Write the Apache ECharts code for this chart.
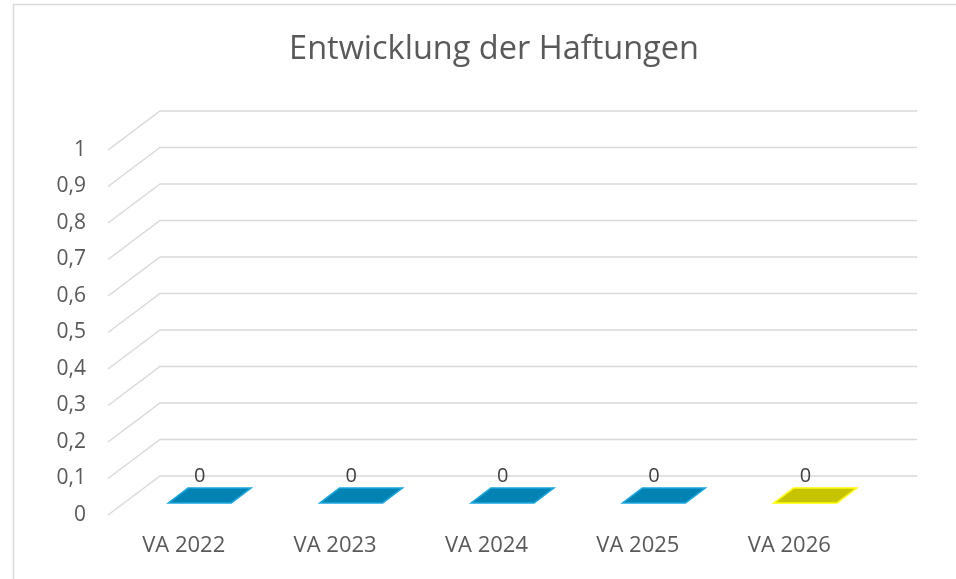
<!DOCTYPE html>
<html>
<head>
<meta charset="utf-8">
<script src="https://cdn.jsdelivr.net/npm/echarts@6/dist/echarts.min.js"></script>
<style>
  html, body { margin: 0; padding: 0; background: #fff; }
  #chart { width: 956px; height: 579px; }
</style>
</head>
<body>
<div id="chart"></div>
<script>
// Daten aus der Vorlage
const categories = ['VA 2022', 'VA 2023', 'VA 2024', 'VA 2025', 'VA 2026']
const haftungen = [0, 0, 0, 0, 0]
const barColors = ['#0383B4', '#0383B4', '#0383B4', '#0383B4', '#C6C300']
const barBorders = ['#1AA7DE', '#1AA7DE', '#1AA7DE', '#1AA7DE', '#FFFF00']
const yTicks = [0, 0.1, 0.2, 0.3, 0.4, 0.5, 0.6, 0.7, 0.8, 0.9, 1]

// Tiefe der 3D-Darstellung (Rückwand gegenüber Vorderkante)
const DX = 52
const DY = -39
const FONT = '"Open Sans", "Noto Sans", sans-serif'

const chart = echarts.init(document.getElementById('chart'))

// schräge Gitterlinien + Rückwand
function renderGrid(params, api) {
  const cs = params.coordSys
  const y = api.coord([0, api.value(1)])[1]
  return {
    type: 'polyline',
    shape: {
      points: [
        [cs.x, y],
        [cs.x + DX, y + DY],
        [cs.x + cs.width + DX, y + DY]
      ]
    },
    style: { stroke: '#D9D9D9', lineWidth: 1.5, fill: null },
    silent: true
  }
}

// flache Säulen (Wert 0 -> nur Deckfläche)
function renderBar(params, api) {
  const i = api.value(0)
  const v = api.value(1)
  const base = api.coord([i, 0])
  const top = api.coord([i, v])
  const bw = api.size([1, 0])[0] * 0.416
  const d0 = 0.31
  const d1 = 0.69
  const fill = barColors[params.dataIndex]
  const stroke = barBorders[params.dataIndex]
  const children = []
  if (v > 0) {
    children.push({
      type: 'rect',
      shape: { x: base[0] - bw / 2 + d0 * DX, y: top[1] + d0 * DY, width: bw, height: base[1] - top[1] },
      style: { fill: fill, stroke: stroke, lineWidth: 1.5 }
    })
  }
  children.push({
    type: 'polygon',
    shape: {
      points: [
        [top[0] - bw / 2 + d0 * DX, top[1] + d0 * DY],
        [top[0] + bw / 2 + d0 * DX, top[1] + d0 * DY],
        [top[0] + bw / 2 + d1 * DX, top[1] + d1 * DY],
        [top[0] - bw / 2 + d1 * DX, top[1] + d1 * DY]
      ]
    },
    style: { fill: fill, stroke: stroke, lineWidth: 1.5 }
  })
  children.push({
    type: 'text',
    style: {
      text: String(v),
      x: top[0] + d0 * DX,
      y: top[1] + d1 * DY - 12,
      align: 'center',
      verticalAlign: 'middle',
      fill: '#404040',
      font: '20px ' + FONT
    }
  })
  return { type: 'group', children: children }
}

const option = {
  animation: false,
  graphic: [
    {
      type: 'rect',
      shape: { x: 13.5, y: 4.5, width: 1000, height: 1000 },
      style: { fill: null, stroke: '#D9D9D9', lineWidth: 1.5 },
      silent: true
    },
    {
      type: 'text',
      x: 494,
      y: 50,
      style: {
        text: 'Entwicklung der Haftungen',
        align: 'center',
        verticalAlign: 'middle',
        fill: '#595959',
        font: '32.5px ' + FONT
      }
    }
  ],
  grid: { left: 108, right: 91, top: 150, bottom: 64 },
  xAxis: {
    type: 'category',
    data: categories,
    axisLine: { show: false },
    axisTick: { show: false },
    splitLine: { show: false },
    axisLabel: { color: '#595959', fontSize: 22, fontFamily: FONT, margin: 20 }
  },
  yAxis: {
    type: 'value',
    min: 0,
    max: 1,
    interval: 0.1,
    axisLine: { show: false },
    axisTick: { show: false },
    splitLine: { show: false },
    axisLabel: {
      color: '#595959',
      fontSize: 21,
      fontFamily: FONT,
      margin: 22,
      formatter: v => String(+v.toFixed(1)).replace('.', ',')
    }
  },
  series: [
    {
      type: 'custom',
      name: 'Gitter',
      renderItem: renderGrid,
      data: yTicks.map(v => [0, v]),
      silent: true,
      z: 1
    },
    {
      type: 'custom',
      name: 'Haftungen',
      renderItem: renderBar,
      data: haftungen.map((v, i) => [i, v]),
      z: 2
    }
  ]
}

chart.setOption(option)
</script>
</body>
</html>
